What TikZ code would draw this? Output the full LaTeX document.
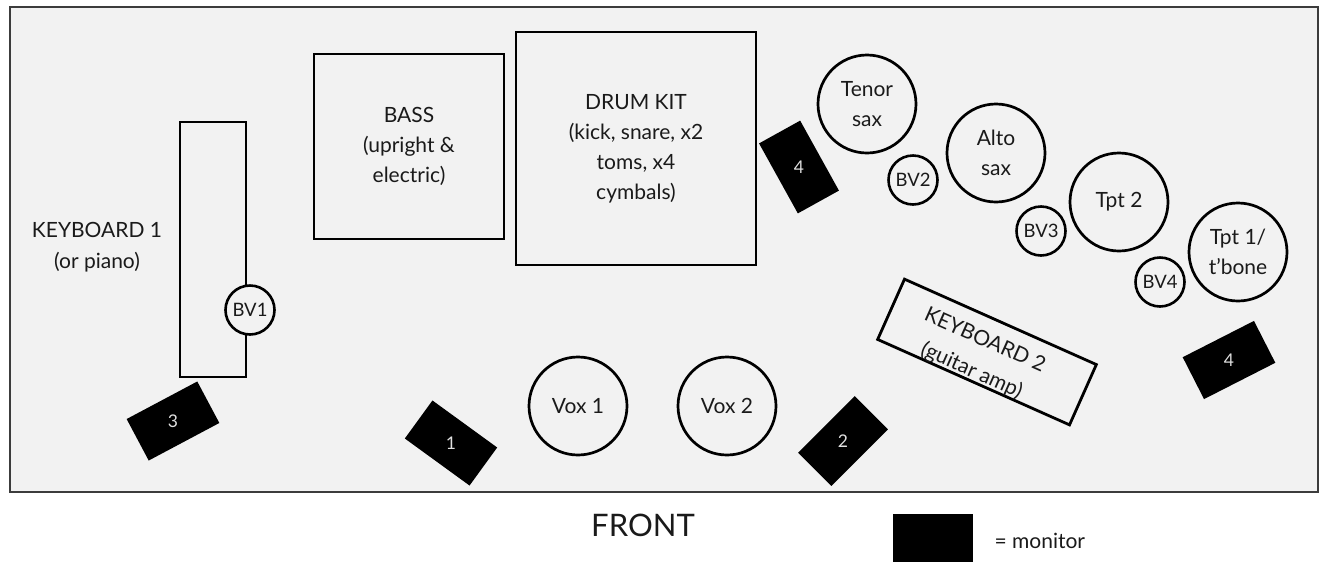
\documentclass[tikz,border=0pt]{standalone}
\usepackage{fontspec}
\setmainfont{Lato}
\definecolor{stagebg}{HTML}{F2F2F2}
\definecolor{ink}{HTML}{1A1A1A}
\begin{document}
\begin{tikzpicture}[x=1pt,y=-1pt,
  every node/.style={text=ink},
  stage/.style={draw=ink!85, line width=1.8pt, fill=stagebg, inner sep=0pt},
  kit/.style={draw=black, line width=2.8pt, inner sep=0pt, align=center, font=\fontsize{21}{30}\selectfont},
  inst/.style={draw=black, line width=2.7pt, fill=stagebg, circle, inner sep=0pt, minimum size=98pt, align=center, font=\fontsize{21}{30}\selectfont},
  bv/.style={draw=black, line width=2.6pt, fill=stagebg, circle, inner sep=0pt, minimum size=49pt, font=\fontsize{18.5}{20}\selectfont},
  monitor/.style={fill=black, minimum width=80pt, minimum height=47pt, inner sep=0pt},
  monnum/.style={text=white!88!black, font=\fontsize{17.5}{18}\selectfont},
  lbl/.style={align=center, font=\fontsize{21}{31}\selectfont}]
\useasboundingbox (0,0) rectangle (1326,566);
\fill[white] (0,0) rectangle (1326,566);
% stage
\node[stage, minimum width=1308pt, minimum height=485pt] (stage) at (664,249.5) {};
% keyboard 1
\node[kit, minimum width=66pt, minimum height=255pt] (kb1) at (213,249.5) {};
\node[lbl] (kb1lbl) at (97,247) {KEYBOARD 1\\(or piano)};
\node[bv] (bv1) at (250,310) {BV1};
% bass
\node[kit, minimum width=190pt, minimum height=185pt] (bass) at (409,146.5) {BASS\\(upright \&\\electric)};
% drums
\node[kit, minimum width=240pt, minimum height=233pt] (drums) at (636,148.5) {DRUM KIT\\(kick, snare, x2\\toms, x4\\cymbals)};
% horns
\node[inst] (tenor) at (867,104) {Tenor\\sax};
\node[bv] (bv2) at (913,180) {BV2};
\node[inst] (alto) at (996,153) {Alto\\sax};
\node[bv] (bv3) at (1041,231) {BV3};
\node[inst] (tpt2) at (1119,202) {Tpt 2};
\node[bv] (bv4) at (1160,282) {BV4};
\node[inst] (tpt1) at (1238,252) {Tpt 1/\\t'bone};
% vox
\node[inst] (vox1) at (578,406) {Vox 1};
\node[inst] (vox2) at (727,406) {Vox 2};
% keyboard 2
\node[kit, minimum width=210pt, minimum height=66pt, rotate=-24] (kb2) at (987,352) {};
\node[lbl, rotate=-24, font=\fontsize{21}{33}\selectfont] (kb2lbl) at (978,356) {KEYBOARD 2\\(guitar amp)};
% monitors
\node[monitor, rotate=28] (m3) at (173,421) {};
\node[monnum] (m3n) at (m3) {3};
\node[monitor, rotate=-36] (m1) at (451,443) {};
\node[monnum] (m1n) at (m1) {1};
\node[monitor, rotate=45] (m2) at (843,441) {};
\node[monnum] (m2n) at (m2) {2};
\node[monitor, rotate=-61] (m4a) at (799,167) {};
\node[monnum] (m4an) at (m4a) {4};
\node[monitor, rotate=27] (m4b) at (1229,360) {};
\node[monnum] (m4bn) at (m4b) {4};
% legend
\node[font=\fontsize{31}{34}\selectfont] (front) at (643,525) {FRONT};
\node[monitor, minimum height=48pt] (legmon) at (933,538) {};
\node[anchor=west, font=\fontsize{21}{24}\selectfont] (legtxt) at (991,541) {= monitor};
\end{tikzpicture}
\end{document}
